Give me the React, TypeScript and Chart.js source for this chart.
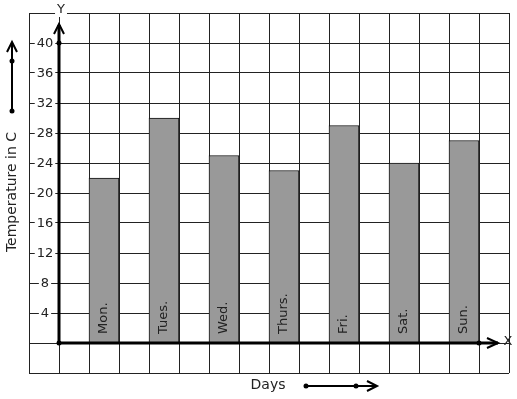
import React, { useEffect, useRef } from "react";
import { Chart, registerables } from "chart.js";

Chart.register(...registerables);

const days = ["Mon.", "Tues.", "Wed.", "Thurs.", "Fri.", "Sat.", "Sun."];
const temperatures = [22, 30, 25, 23, 29, 24, 27];
const yTickLabels = [4, 8, 12, 16, 20, 24, 28, 32, 36, 40];
const yTitle = "Temperature in C";
const xTitle = "Days";

// 16 grid columns; bars occupy every other column starting at column 2
const slots: string[] = [];
const slotValues: (number | null)[] = [];
for (let i = 0; i < 16; i++) {
  const d = i >= 2 && i % 2 === 0 ? (i - 2) / 2 : -1;
  slots.push(d >= 0 && d < days.length ? days[d] : "");
  slotValues.push(d >= 0 && d < days.length ? temperatures[d] : null);
}

const FONT = "DejaVu Sans, sans-serif";

function dot(ctx: CanvasRenderingContext2D, x: number, y: number, r = 2.5) {
  ctx.beginPath();
  ctx.arc(x, y, r, 0, Math.PI * 2);
  ctx.fill();
}

const decor = {
  id: "decor",
  afterDatasetsDraw(chart: any) {
    const ctx: CanvasRenderingContext2D = chart.ctx;
    const xs = chart.scales.x;
    const ys = chart.scales.y;
    const area = chart.chartArea;
    const colW = (area.right - area.left) / slots.length;
    const ox = Math.round(xs.getPixelForValue(1) - colW / 2); // y axis on slot boundary
    const oy = Math.round(ys.getPixelForValue(0));
    ctx.save();
    ctx.fillStyle = "#000";
    ctx.strokeStyle = "#000";

    // bar labels
    ctx.font = `13px ${FONT}`;
    ctx.fillStyle = "#222";
    ctx.textAlign = "left";
    ctx.textBaseline = "middle";
    slots.forEach((s, i) => {
      if (!s) return;
      const cx = xs.getPixelForValue(i);
      ctx.save();
      ctx.translate(cx, oy - 9);
      ctx.rotate(-Math.PI / 2);
      ctx.fillText(s, 0, 0);
      ctx.restore();
    });

    // y tick labels with white background
    ctx.font = `13px ${FONT}`;
    ctx.textAlign = "center";
    ctx.textBaseline = "middle";
    const lx = (area.left + ox) / 2 + 1;
    yTickLabels.forEach((v) => {
      const y = ys.getPixelForValue(v);
      const w = ctx.measureText(String(v)).width;
      ctx.fillStyle = "#fff";
      ctx.fillRect(lx - w / 2 - 2, y - 6, w + 4, 12);
      ctx.fillStyle = "#222";
      ctx.fillText(String(v), lx, y + 0.5);
    });

    // axes
    ctx.fillStyle = "#000";
    ctx.lineWidth = 3;
    ctx.beginPath();
    ctx.moveTo(ox, oy);
    ctx.lineTo(ox, area.top + 12);
    ctx.moveTo(ox, oy);
    ctx.lineTo(area.right - 11, oy);
    ctx.stroke();
    ctx.lineWidth = 2;
    ctx.beginPath();
    // Y arrowhead
    ctx.moveTo(ox - 5, area.top + 21);
    ctx.lineTo(ox, area.top + 11);
    ctx.lineTo(ox + 5, area.top + 21);
    // X arrowhead
    ctx.moveTo(area.right - 22, oy - 5);
    ctx.lineTo(area.right - 11, oy);
    ctx.lineTo(area.right - 22, oy + 5);
    ctx.stroke();
    dot(ctx, ox, oy);
    dot(ctx, ox, ys.getPixelForValue(40));
    dot(ctx, area.right - 30, oy);

    // axis letters
    ctx.font = `13px ${FONT}`;
    ctx.textAlign = "center";
    ctx.textBaseline = "middle";
    const yw = ctx.measureText("Y").width;
    ctx.fillStyle = "#fff";
    ctx.fillRect(ox + 2 - yw / 2 - 2, area.top - 4, yw + 4, 8);
    ctx.fillStyle = "#222";
    ctx.fillText("Y", ox + 2, area.top - 3);
    ctx.fillText("X", area.right - 1, oy - 1);

    // left side title + arrow
    ctx.font = `14px ${FONT}`;
    ctx.save();
    ctx.translate(12, 192);
    ctx.rotate(-Math.PI / 2);
    ctx.fillText(yTitle, 0, 0);
    ctx.restore();
    ctx.fillStyle = "#000";
    ctx.lineWidth = 2;
    ctx.beginPath();
    ctx.moveTo(12, 111);
    ctx.lineTo(12, 43);
    ctx.moveTo(7, 52);
    ctx.lineTo(12, 42);
    ctx.lineTo(17, 52);
    ctx.stroke();
    dot(ctx, 12, 111);
    dot(ctx, 12, 61);

    // bottom title + arrow
    ctx.fillStyle = "#222";
    ctx.fillText(xTitle, 268, 385);
    ctx.fillStyle = "#000";
    ctx.beginPath();
    ctx.moveTo(306, 386);
    ctx.lineTo(376, 386);
    ctx.moveTo(367, 381);
    ctx.lineTo(377, 386);
    ctx.lineTo(367, 391);
    ctx.stroke();
    dot(ctx, 306, 386);
    dot(ctx, 356, 386);
    ctx.restore();
  },
};

export default function App() {
  const ref = useRef<HTMLCanvasElement>(null);
  useEffect(() => {
    if (!ref.current) return;
    const chart = new Chart(ref.current, {
      type: "bar",
      data: {
        labels: slots,
        datasets: [
          {
            data: slotValues as any,
            backgroundColor: "#999999",
            borderColor: "#111",
            borderWidth: 1,
            barPercentage: 1,
            categoryPercentage: 1,
          },
        ],
      },
      options: {
        animation: false,
        responsive: false,
        maintainAspectRatio: false,
        layout: { padding: { left: 29, top: 13, right: 8, bottom: 26 } },
        plugins: { legend: { display: false }, tooltip: { enabled: false } },
        scales: {
          x: {
            type: "category",
            offset: true,
            ticks: { display: false },
            border: { display: false },
            grid: { offset: true, color: "#222", lineWidth: 1, drawTicks: false },
          },
          y: {
            min: -4,
            max: 44,
            ticks: { display: false, stepSize: 4 },
            border: { display: false },
            grid: { color: "#222", lineWidth: 1, drawTicks: false },
          },
        },
      },
      plugins: [decor],
    });
    return () => chart.destroy();
  }, []);
  return (
    <div style={{ position: "fixed", left: 0, top: 0, width: 517, height: 399, background: "#fff" }}>
      <canvas ref={ref} width={517} height={399} style={{ display: "block" }} />
    </div>
  );
}
